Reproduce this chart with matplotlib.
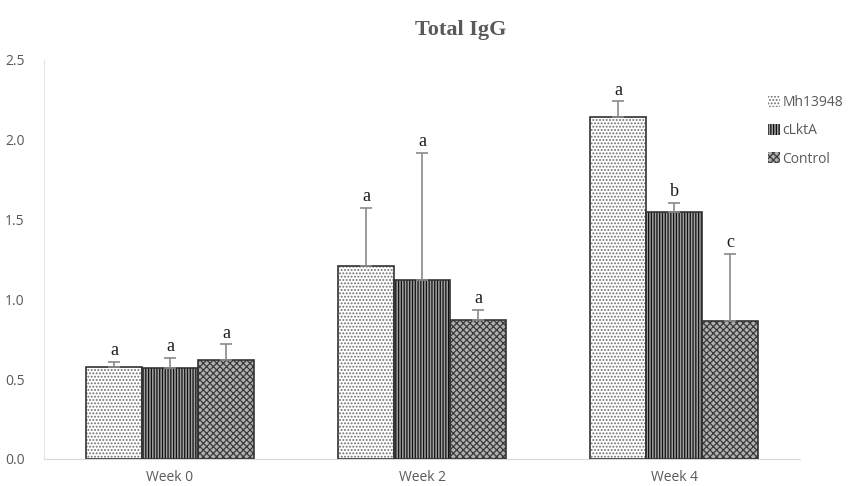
import matplotlib.pyplot as plt
import numpy as np

weeks = ['Week 0', 'Week 2', 'Week 4']
groups = ['Mh13948', 'cLktA', 'Control']
# mean values per group (one entry per week)
mh_means = [0.575, 1.21, 2.14]
clkta_means = [0.57, 1.12, 1.55]
control_means = [0.62, 0.87, 0.865]
# upper error bars
mh_err = [0.035, 0.365, 0.10]
clkta_err = [0.065, 0.80, 0.055]
control_err = [0.10, 0.065, 0.42]
# significance letters
mh_letters = ['a', 'a', 'a']
clkta_letters = ['a', 'a', 'b']
control_letters = ['a', 'a', 'c']

means = [mh_means, clkta_means, control_means]
errs = [mh_err, clkta_err, control_err]
letters = [mh_letters, clkta_letters, control_letters]
hatches = ['.....', '||||||', 'xxxxx']
hatch_colors = ['#6e6e6e', '#111111', '#3a3a3a']
face_colors = ['white', '#a0a0a0', '#b0b0b0']

plt.rcParams['hatch.linewidth'] = 0.9

fig = plt.figure(figsize=(8.66, 4.86), dpi=100)
ax = fig.add_axes([0.0508, 0.0556, 0.873, 0.821])

ind = np.arange(len(weeks))
width = 0.222
handles = []
for i in range(3):
    x = ind + (i - 1) * width
    # hatch layer
    h = ax.bar(x, means[i], width, color=face_colors[i], hatch=hatches[i],
               edgecolor=hatch_colors[i], linewidth=0, zorder=2)
    # outline
    ax.bar(x, means[i], width, fill=False, edgecolor='#333333', linewidth=1.2, zorder=3)
    ax.errorbar(x, means[i], yerr=[np.zeros(3), errs[i]], fmt='none',
                ecolor='#8a8a8a', elinewidth=1.2, capsize=4, capthick=1.2, zorder=4)
    for xx, m, e, t in zip(x, means[i], errs[i], letters[i]):
        ax.text(xx, m + e + 0.015, t, ha='center', va='bottom', fontsize=13,
                family='Liberation Serif', color='#1a1a1a')
    handles.append(h)

ax.set_xlim(-0.5, 2.5)
ax.set_ylim(0, 2.5)
ax.set_xticks(ind)
ax.set_xticklabels(weeks)
ax.set_yticks(np.arange(0, 2.51, 0.5))
ax.set_yticklabels(['%.1f' % v for v in np.arange(0, 2.51, 0.5)])
for lab in ax.get_xticklabels() + ax.get_yticklabels():
    lab.set_family('Open Sans')
    lab.set_fontsize(10)
    lab.set_color('#595959')
ax.tick_params(length=0, pad=8)
ax.tick_params(axis='y', pad=14)
for s in ['top', 'right']:
    ax.spines[s].set_visible(False)
ax.spines['left'].set_color('#e6e6e6')
ax.spines['bottom'].set_color('#d9d9d9')

fig.text(0.532, 0.938, 'Total IgG', ha='center', va='center', fontsize=16,
         fontweight='bold', family='Liberation Serif', color='#595959')

leg = fig.legend(handles, groups, loc='upper left', bbox_to_anchor=(0.872, 0.83),
                 frameon=False, handlelength=0.9, handleheight=0.9,
                 handletextpad=0.15, labelspacing=0.95,
                 prop={'family': 'Open Sans', 'size': 10})
for t in leg.get_texts():
    t.set_color('#595959')

plt.savefig('out.png', dpi=100)
